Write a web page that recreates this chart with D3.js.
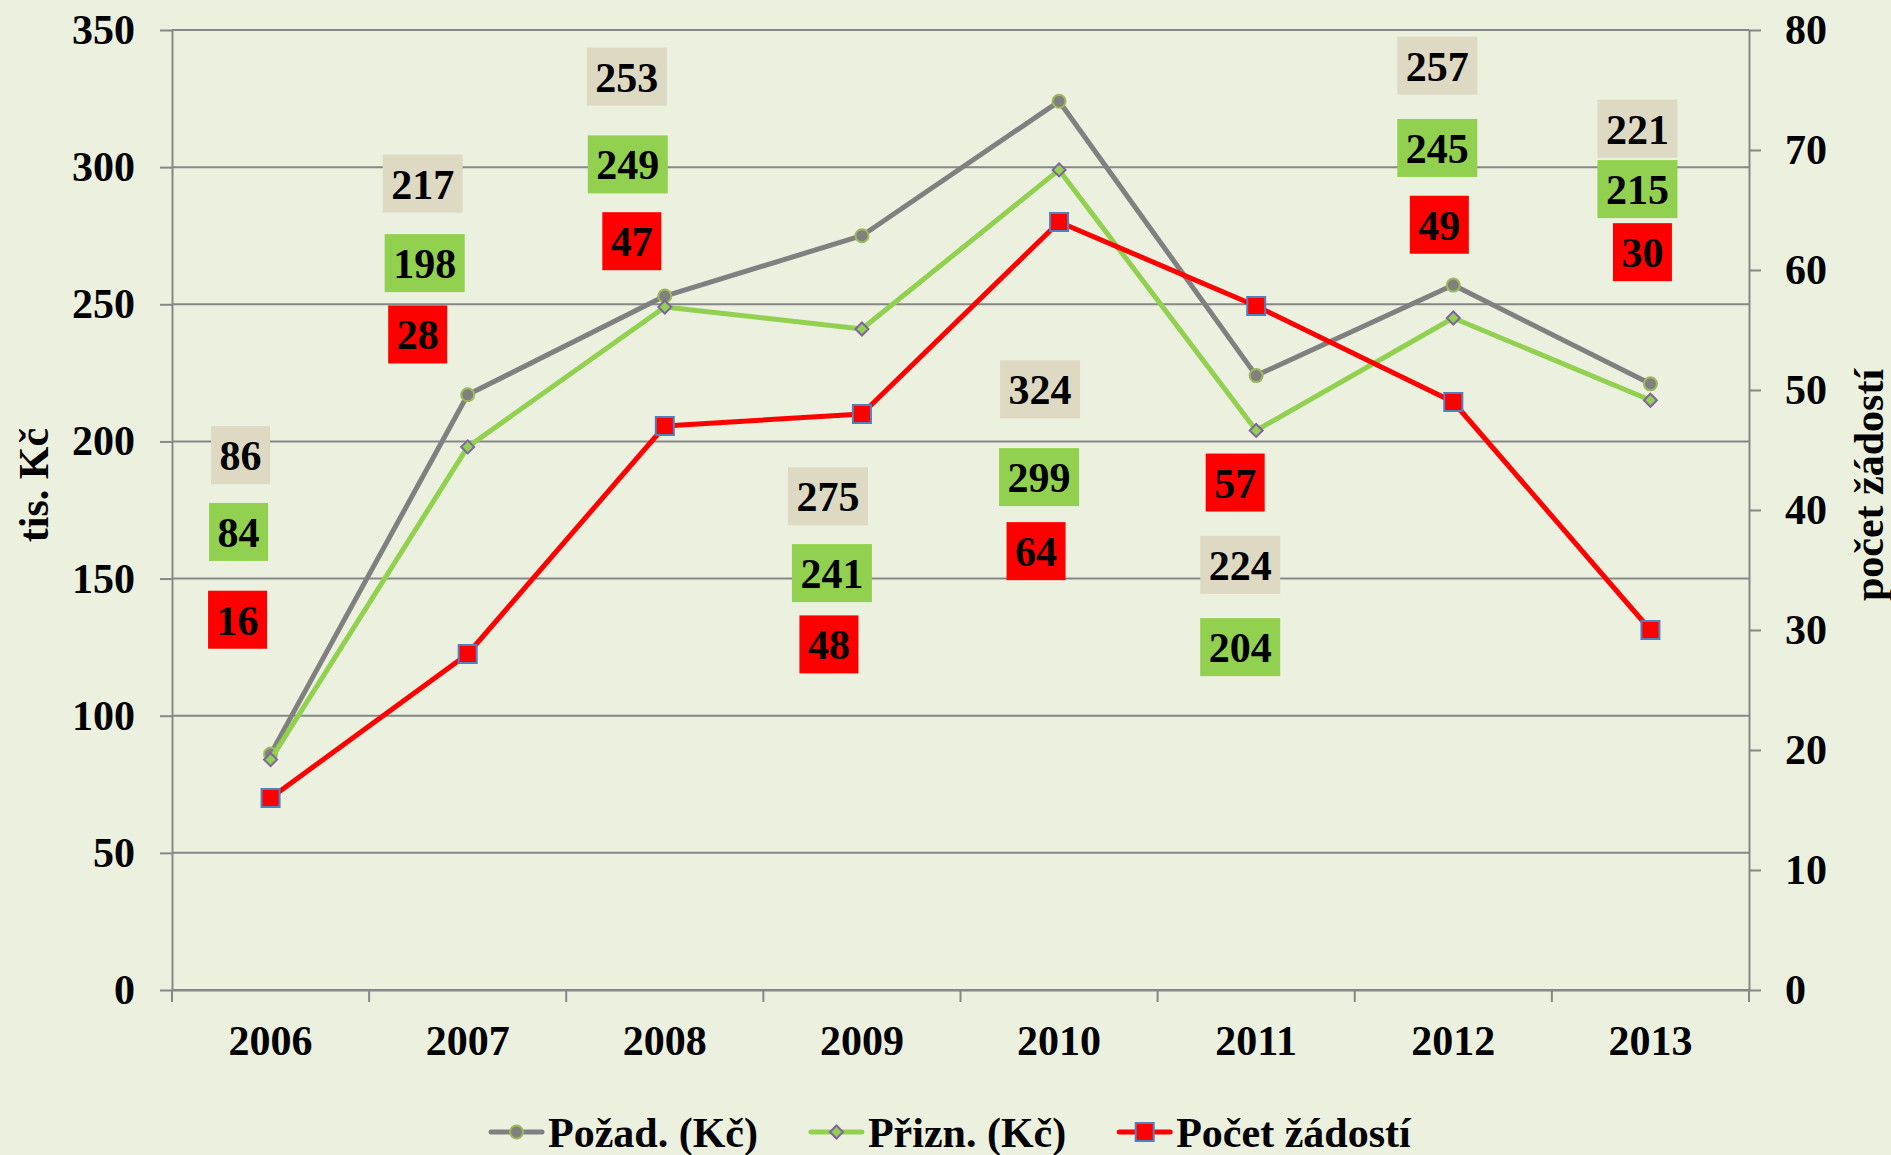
<!DOCTYPE html>
<html>
<head>
<meta charset="utf-8">
<script src="https://cdn.jsdelivr.net/npm/d3@7"></script>
<style>
  body { margin: 0; background: #ebf0df; }
  svg { display: block; font-family: "Liberation Serif", "Times New Roman", serif; font-weight: bold; }
</style>
</head>
<body>
<div id="chart"><svg></svg></div>
<script>
// data
const years = [2006, 2007, 2008, 2009, 2010, 2011, 2012, 2013];
const pozad = [86, 217, 253, 275, 324, 224, 257, 221];   // tis. Kč
const prizn = [84, 198, 249, 241, 299, 204, 245, 215];   // tis. Kč
const pocet = [16, 28, 47, 48, 64, 57, 49, 30];          // počet žádostí
const leftTicks = [0, 50, 100, 150, 200, 250, 300, 350];
const rightTicks = [0, 10, 20, 30, 40, 50, 60, 70, 80];
const seriesNames = ["Požad. (Kč)", "Přizn. (Kč)", "Počet žádostí"];

// where the data labels sit (left axis units) and their sideways shift
const pozadLabelAt = [195, 294, 333, 180, 219, 155, 337, 314];
const priznLabelAt = [167, 265, 301, 152, 187, 125, 307, 292];
const pocetLabelAt = [135, 239, 273, 126, 160, 185, 279, 269];
const pozadLabelDx = [-30, -45, -38, -34, -19, -16, -16, -13];
const priznLabelDx = [-32, -43, -37, -30, -20, -16, -16, -13];
const pocetLabelDx = [-33, -50, -33, -33, -23, -21, -14, -8];

const W = 1891, H = 1155;
const plotL = 172, plotR = 1749, plotT = 30, plotB = 990;
const fs = 42;

const svg = d3.select("#chart svg").attr("width", W).attr("height", H);

const x = d3.scaleBand().domain(years).range([plotL, plotR]);
const yL = d3.scaleLinear().domain([0, 350]).range([plotB, plotT]);
const yR = d3.scaleLinear().domain([0, 80]).range([plotB, plotT]);
const cx = i => x(years[i]) + x.bandwidth() / 2;

const axisCol = "#878787";

// gridlines
svg.append("g").selectAll("line")
  .data(leftTicks)
  .join("line")
  .attr("x1", plotL).attr("x2", plotR)
  .attr("y1", d => yL(d)).attr("y2", d => yL(d))
  .attr("stroke", axisCol).attr("stroke-width", 2);

// left axis
const gL = svg.append("g")
  .attr("transform", `translate(${plotL},0)`)
  .call(d3.axisLeft(yL).tickValues(leftTicks).tickSize(12).tickSizeOuter(0).tickPadding(25));
// right axis
const gR = svg.append("g")
  .attr("transform", `translate(${plotR},0)`)
  .call(d3.axisRight(yR).tickValues(rightTicks).tickSize(12).tickSizeOuter(0).tickPadding(24));
// bottom axis (labels only, ticks between categories)
const gB = svg.append("g")
  .attr("transform", `translate(0,${plotB})`)
  .call(d3.axisBottom(x).tickSize(0).tickPadding(35));
gB.selectAll("line").remove();
gB.append("g").selectAll("line")
  .data(d3.range(years.length + 1))
  .join("line")
  .attr("x1", i => plotL + i * x.step()).attr("x2", i => plotL + i * x.step())
  .attr("y1", 0).attr("y2", 12)
  .attr("stroke", axisCol).attr("stroke-width", 2);

[gL, gR, gB].forEach(g => {
  g.select(".domain").attr("stroke", axisCol).attr("stroke-width", 2);
  g.selectAll(".tick line").attr("stroke", axisCol).attr("stroke-width", 2);
  g.selectAll("text")
    .attr("fill", "#000")
    .style("font-family", "'Liberation Serif', serif")
    .style("font-weight", "bold")
    .style("font-size", fs + "px");
});

// axis titles
svg.append("text")
  .attr("transform", "translate(48,485) rotate(-90)")
  .attr("text-anchor", "middle")
  .style("font-size", fs + "px")
  .text("tis. Kč");
svg.append("text")
  .attr("transform", "translate(1883,485) rotate(-90)")
  .attr("text-anchor", "middle")
  .style("font-size", fs + "px")
  .text("počet žádostí");

// series
const series = [
  { values: pozad, y: yL, color: "#808080", marker: "circle" },
  { values: prizn, y: yL, color: "#92d050", marker: "diamond" },
  { values: pocet, y: yR, color: "#ff0000", marker: "square" }
];

function drawMarker(g, type, px, py) {
  if (type === "circle") {
    g.append("circle").attr("cx", px).attr("cy", py).attr("r", 6.5)
      .attr("fill", "#808080").attr("stroke", "#9bbb59").attr("stroke-width", 2);
  } else if (type === "diamond") {
    g.append("path")
      .attr("d", `M${px},${py - 6.5}L${px + 6.5},${py}L${px},${py + 6.5}L${px - 6.5},${py}Z`)
      .attr("fill", "#92d050").attr("stroke", "#8064a2").attr("stroke-width", 2);
  } else {
    g.append("rect").attr("x", px - 9).attr("y", py - 9).attr("width", 18).attr("height", 18)
      .attr("fill", "#ff0000").attr("stroke", "#4f81bd").attr("stroke-width", 2);
  }
}

series.forEach(s => {
  const line = d3.line().x((d, i) => cx(i)).y(d => s.y(d));
  svg.append("path")
    .attr("d", line(s.values))
    .attr("fill", "none")
    .attr("stroke", s.color)
    .attr("stroke-width", 5)
    .attr("stroke-linejoin", "round");
  const gm = svg.append("g");
  s.values.forEach((v, i) => drawMarker(gm, s.marker, cx(i), s.y(v)));
});

// data labels
const labelSets = [
  { values: pozad, at: pozadLabelAt, dx: pozadLabelDx, bg: "#ddd9c3" },
  { values: prizn, at: priznLabelAt, dx: priznLabelDx, bg: "#92d050" },
  { values: pocet, at: pocetLabelAt, dx: pocetLabelDx, bg: "#ff0000" }
];
const gLab = svg.append("g");
labelSets.forEach(ls => {
  ls.values.forEach((v, i) => {
    const lx = cx(i) + ls.dx[i];
    const ly = yL(ls.at[i]);
    const g = gLab.append("g");
    const t = g.append("text")
      .attr("x", lx).attr("y", ly + 15)
      .attr("text-anchor", "middle")
      .style("font-size", fs + "px")
      .text(v);
    const tw = t.node().getComputedTextLength();
    g.insert("rect", "text")
      .attr("x", lx - tw / 2 - 8.5).attr("y", ly - 29)
      .attr("width", tw + 17).attr("height", 58)
      .attr("fill", ls.bg);
  });
});

// legend
const legend = svg.append("g").attr("transform", "translate(488,1132)");
let legX = 0;
series.forEach((s, i) => {
  const g = legend.append("g").attr("transform", `translate(${legX},0)`);
  g.append("line").attr("x1", 3).attr("x2", 54).attr("y1", 0).attr("y2", 0)
    .attr("stroke", s.color).attr("stroke-width", 5).attr("stroke-linecap", "round");
  drawMarker(g, s.marker, 28.5, 0);
  const t = g.append("text").attr("x", 60).attr("y", 15)
    .style("font-size", fs + "px")
    .text(seriesNames[i]);
  legX += 60 + t.node().getComputedTextLength() + 50;
});
</script>
</body>
</html>
